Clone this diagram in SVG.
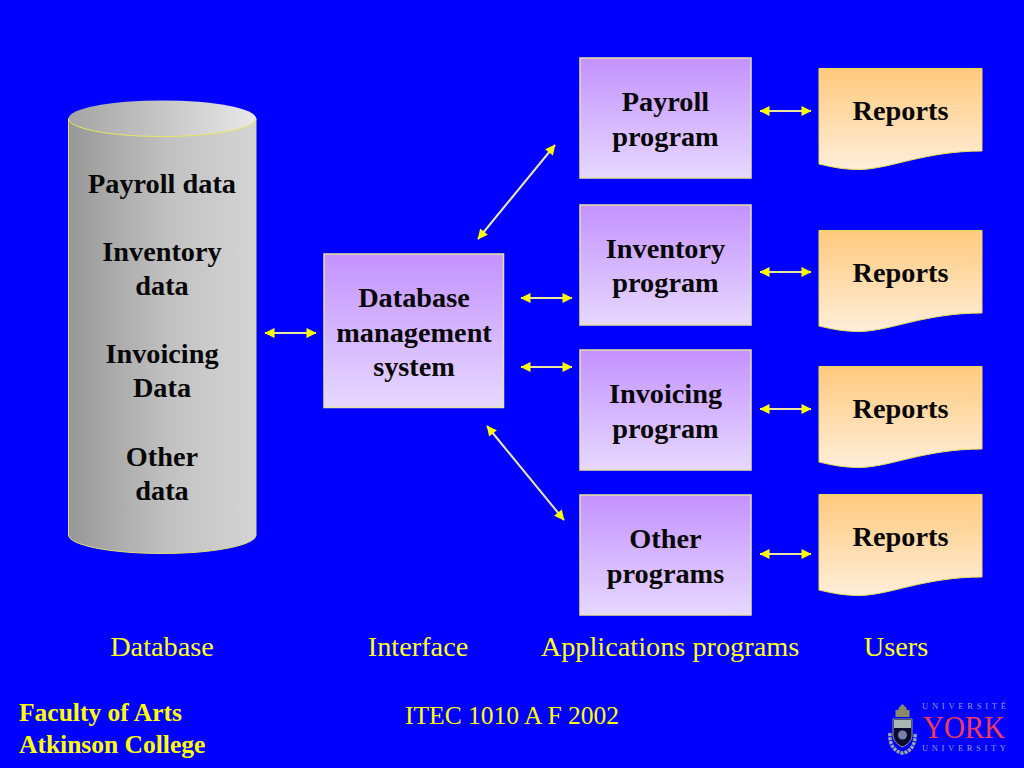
<svg xmlns="http://www.w3.org/2000/svg" width="1024" height="768" viewBox="0 0 1024 768">
<style>
text{font-family:"Liberation Serif","Times New Roman",serif;text-anchor:middle}
.b{font-weight:bold;font-size:28.300px;fill:#080808}
.l{font-size:28.300px;fill:#ffff1a}
.f{font-weight:bold;font-size:25.500px;fill:#ffff00;text-anchor:start}
.box{fill:url(#purple);stroke:#e6e2a0;stroke-width:1.500}
.rep{fill:url(#orange);stroke:#e8e050;stroke-width:1}
.c{stroke:#e8e8a0;stroke-width:2;fill:none;marker-start:url(#as);marker-end:url(#ae)}
</style>
<defs>
<linearGradient id="purple" x1="0" y1="0" x2="0" y2="1"><stop offset="0" stop-color="#c492ff"/><stop offset="1" stop-color="#e6d8ff"/></linearGradient>
<linearGradient id="orange" x1="0" y1="0" x2="0" y2="1"><stop offset="0" stop-color="#ffc97c"/><stop offset="1" stop-color="#ffeeda"/></linearGradient>
<linearGradient id="cyl" x1="0" y1="0" x2="1" y2="0"><stop offset="0" stop-color="#989898"/><stop offset="0.55" stop-color="#c2c2c2"/><stop offset="1" stop-color="#d4d4d4"/></linearGradient>
<linearGradient id="top" x1="0" y1="0" x2="1" y2="0"><stop offset="0" stop-color="#a4a4a4"/><stop offset="1" stop-color="#e8e8e8"/></linearGradient>
<marker id="ae" viewBox="0 0 10 10" refX="9.500" refY="5" markerWidth="11" markerHeight="10" markerUnits="userSpaceOnUse" orient="auto"><path d="M0 0L10 5L0 10Z" fill="#ffff00"/></marker>
<marker id="as" viewBox="0 0 10 10" refX="0.500" refY="5" markerWidth="11" markerHeight="10" markerUnits="userSpaceOnUse" orient="auto"><path d="M10 0L0 5L10 10Z" fill="#ffff00"/></marker>
</defs>
<rect width="1024" height="768" fill="#0000ff"/>

<g id="connectors">
<line class="c" x1="265" y1="333" x2="316" y2="333"/>
<line class="c" x1="478" y1="239" x2="555" y2="145"/>
<line class="c" x1="521" y1="298" x2="572" y2="298"/>
<line class="c" x1="521" y1="367" x2="572" y2="367"/>
<line class="c" x1="487" y1="426" x2="564" y2="520"/>
<line class="c" x1="760" y1="111" x2="811" y2="111"/>
<line class="c" x1="760" y1="272" x2="811" y2="272"/>
<line class="c" x1="760" y1="409" x2="811" y2="409"/>
<line class="c" x1="760" y1="554" x2="811" y2="554"/>
</g>

<g id="database">
<path d="M68.500 118.500V535C68.500 545 110 553.500 162.300 553.500S256 545 256 535V118.500Z" fill="url(#cyl)" stroke="#dede70"/>
<ellipse cx="162.300" cy="118.500" rx="93.800" ry="18" fill="url(#top)"/>
<path d="M68.500 118.500C68.500 128.500 110 136.500 162.300 136.500S256 128.500 256 118.500" fill="none" stroke="#e8e860" stroke-width="1"/>
<text class="b" x="162" y="193">Payroll data</text>
<text class="b" x="162" y="261">Inventory</text>
<text class="b" x="162" y="295">data</text>
<text class="b" x="162" y="363">Invoicing</text>
<text class="b" x="162" y="397">Data</text>
<text class="b" x="162" y="466">Other</text>
<text class="b" x="162" y="500">data</text>
</g>

<g id="dbms">
<rect class="box" x="324" y="254" width="179.500" height="153.500"/>
<text class="b" x="414" y="307">Database</text>
<text class="b" x="414" y="342">management</text>
<text class="b" x="414" y="376">system</text>
</g>

<g id="payroll-program">
<rect class="box" x="580" y="58" width="171" height="120"/>
<text class="b" x="665.500" y="111">Payroll</text>
<text class="b" x="665.500" y="146">program</text>
</g>
<g id="inventory-program">
<rect class="box" x="580" y="205" width="171" height="120"/>
<text class="b" x="665.500" y="258">Inventory</text>
<text class="b" x="665.500" y="292">program</text>
</g>
<g id="invoicing-program">
<rect class="box" x="580" y="350" width="171" height="120"/>
<text class="b" x="665.500" y="403">Invoicing</text>
<text class="b" x="665.500" y="438">program</text>
</g>
<g id="other-programs">
<rect class="box" x="580" y="495" width="171" height="120"/>
<text class="b" x="665.500" y="548">Other</text>
<text class="b" x="665.500" y="583">programs</text>
</g>

<g id="reports-1">
<path class="rep" d="M819 68.500H982V151C925 151 890 169 860 169.500C843 169.500 832 167 819 164Z"/>
<text class="b" x="900.500" y="120">Reports</text>
</g>
<g id="reports-2">
<path class="rep" d="M819 230.500H982V313C925 313 890 331 860 331.500C843 331.500 832 329 819 326Z"/>
<text class="b" x="900.500" y="282">Reports</text>
</g>
<g id="reports-3">
<path class="rep" d="M819 366.500H982V449C925 449 890 467 860 467.500C843 467.500 832 465 819 462Z"/>
<text class="b" x="900.500" y="418">Reports</text>
</g>
<g id="reports-4">
<path class="rep" d="M819 494.500H982V577C925 577 890 595 860 595.500C843 595.500 832 593 819 590Z"/>
<text class="b" x="900.500" y="546">Reports</text>
</g>

<g id="labels">
<text class="l" x="162" y="656">Database</text>
<text class="l" x="418" y="656">Interface</text>
<text class="l" x="670" y="656">Applications programs</text>
<text class="l" x="896" y="656">Users</text>
<text class="f" x="19" y="721">Faculty of Arts</text>
<text class="f" x="19" y="753">Atkinson College</text>
<text x="512" y="724" style="font-size:25.500px;fill:#ffff00">ITEC 1010 A F 2002</text>
</g>

<g id="logo">
<path d="M902.500 704l4 4v2h3v7h-14v-7h3v-2Z" fill="#8a8a68"/>
<path d="M893 719H912V735C912 741 907 745 902.500 747C898 745 893 741 893 735Z" fill="#0c0c30" stroke="#8f9f90"/>
<rect x="894" y="720" width="17" height="8" fill="#a8b8b0"/>
<circle cx="902.500" cy="735" r="4.500" fill="#7a80a8"/>
<path d="M890 733C889 745 895 752 902.500 753C910 752 916 745 915 733" fill="none" stroke="#9aa8a0" stroke-width="3.500" stroke-dasharray="3 1"/>
<text x="964" y="708.500" textLength="84" lengthAdjust="spacing" style="font-size:8.500px;fill:#9a9ac8">UNIVERSITÉ</text>
<text x="964" y="738" textLength="82" lengthAdjust="spacingAndGlyphs" style="font-size:31px;fill:#f03a5a">YORK</text>
<text x="964" y="751" textLength="84" lengthAdjust="spacing" style="font-size:8.500px;fill:#9a9ac8">UNIVERSITY</text>
</g>
</svg>
